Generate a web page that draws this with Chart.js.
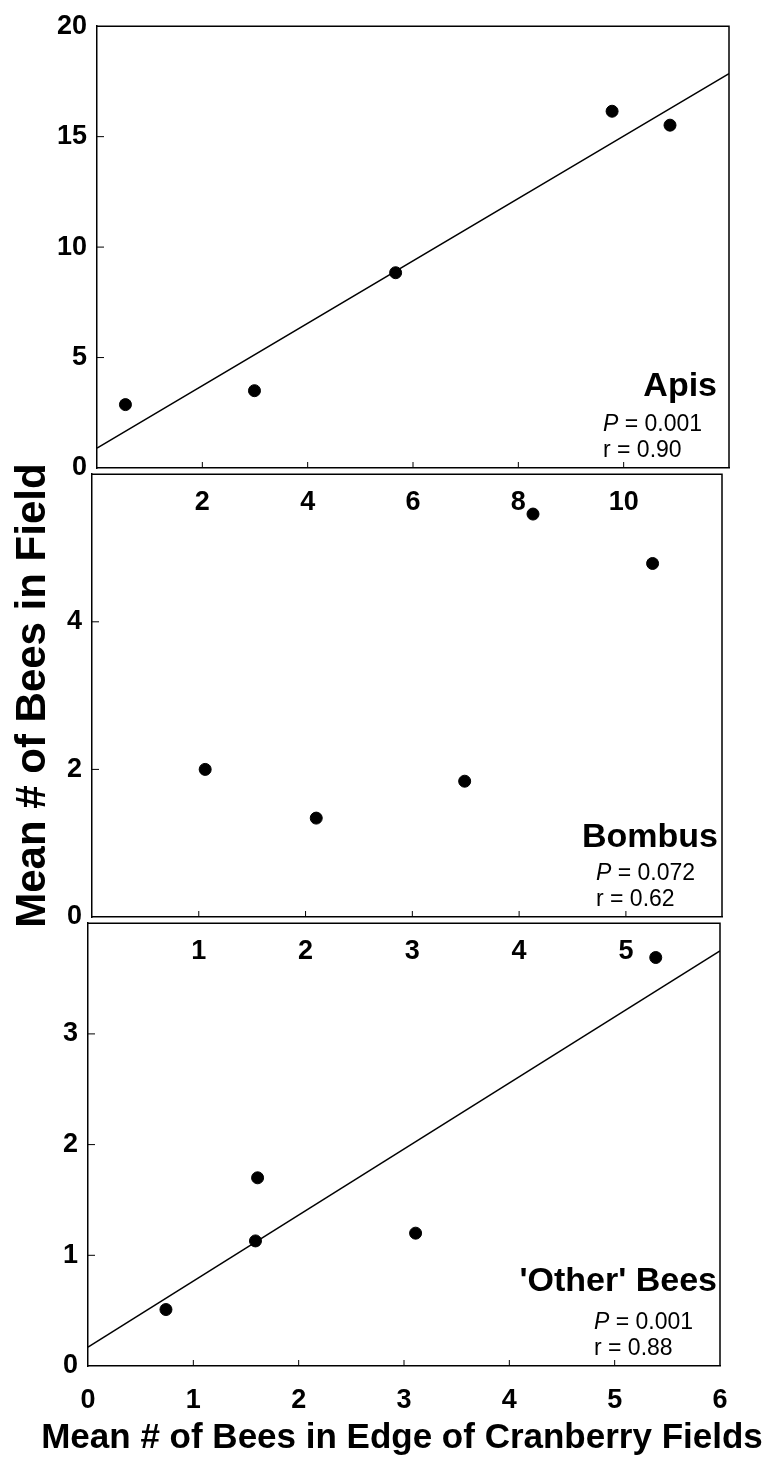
<!DOCTYPE html>
<html>
<head>
<meta charset="utf-8">
<script src="https://cdn.jsdelivr.net/npm/chart.js@4.4.1/dist/chart.umd.min.js"></script>
<style>
  html, body { margin: 0; padding: 0; background: #fff; }
  #page { position: relative; width: 773px; height: 1462px; overflow: hidden; background: #fff; }
  #page canvas { position: absolute; left: 0; }
</style>
</head>
<body>
<div id="page">
  <canvas id="apis" width="773" height="540" style="top:0px"></canvas>
  <canvas id="bombus" width="773" height="541" style="top:448px"></canvas>
  <canvas id="other" width="773" height="565" style="top:897px"></canvas>
</div>
<script>
// Apis panel
const apisX = [0.54, 2.99, 5.67, 9.78, 10.88];
const apisY = [2.87, 3.50, 8.84, 16.15, 15.52];
const apisFitX = [0, 12];
const apisFitY = [0.9, 17.85];
const apisXTicks = [2, 4, 6, 8, 10];
const apisYTicks = [0, 5, 10, 15, 20];

// Bombus panel (no fitted line)
const bombusX = [1.06, 2.10, 3.49, 4.13, 5.25];
const bombusY = [2.0, 1.34, 1.84, 5.46, 4.79];
const bombusXTicks = [1, 2, 3, 4, 5];
const bombusYTicks = [0, 2, 4];

// 'Other' bees panel
const otherX = [0.74, 1.59, 1.61, 3.11, 5.39];
const otherY = [0.51, 1.13, 1.70, 1.20, 3.69];
const otherFitX = [0, 6];
const otherFitY = [0.17, 3.75];
const otherXTicks = [0, 1, 2, 3, 4, 5, 6];
const otherYTicks = [0, 1, 2, 3];

const FONT = "'Liberation Sans', Arial, Helvetica, sans-serif";

const toPoints = (xs, ys) => xs.map((x, i) => ({ x: x, y: ys[i] }));

// box edges, inward tick marks and the species / stats text
const panelPlugin = {
  id: 'panel',
  afterDraw(chart, args, opts) {
    const ctx = chart.ctx;
    const { left, right, top, bottom } = chart.chartArea;
    const sx = chart.scales.x, sy = chart.scales.y;
    ctx.save();
    ctx.strokeStyle = '#000';
    ctx.lineWidth = 1.5;
    ctx.beginPath();
    ctx.moveTo(left, top);
    ctx.lineTo(right, top);
    ctx.lineTo(right, bottom);
    ctx.stroke();

    ctx.lineWidth = 1;
    ctx.beginPath();
    sx.ticks.forEach(t => {
      const px = sx.getPixelForValue(t.value);
      if (px > left + 2 && px < right - 2) { ctx.moveTo(px, bottom); ctx.lineTo(px, bottom - 6); }
    });
    sy.ticks.forEach(t => {
      const py = sy.getPixelForValue(t.value);
      if (py > top + 2 && py < bottom - 2) { ctx.moveTo(left, py); ctx.lineTo(left + 7, py); }
    });
    ctx.stroke();

    ctx.fillStyle = '#000';
    ctx.textBaseline = 'middle';
    ctx.textAlign = 'right';
    ctx.font = 'bold 34px ' + FONT;
    ctx.fillText(opts.name, right - opts.nameInset, bottom - opts.nameUp);

    ctx.textAlign = 'left';
    const sx0 = right - 126;
    ctx.font = 'italic 23px ' + FONT;
    ctx.fillText('P', sx0, bottom - 43);
    const pw = ctx.measureText('P').width;
    ctx.font = '23px ' + FONT;
    ctx.fillText(' = ' + opts.p, sx0 + pw, bottom - 43);
    ctx.fillText('r = ' + opts.r, sx0, bottom - 17);

    // the x title is wider than the plot, so Chart.js would squeeze it; draw it here
    if (opts.xTitle) {
      ctx.textAlign = 'center';
      ctx.font = 'bold 35px ' + FONT;
      ctx.fillText(opts.xTitle, (left + right) / 2 - 2, bottom + 72);
    }
    ctx.restore();
  }
};

function makePanel(id, cfg) {
  const datasets = [{
    data: toPoints(cfg.xs, cfg.ys),
    backgroundColor: '#000',
    borderColor: '#000',
    pointRadius: 6,
    pointHoverRadius: 6
  }];
  if (cfg.fitX) {
    datasets.push({
      data: toPoints(cfg.fitX, cfg.fitY),
      showLine: true,
      borderColor: '#000',
      borderWidth: 1.5,
      pointRadius: 0
    });
  }
  const tickFont = { family: FONT, size: 27, weight: 'bold' };
  return new Chart(document.getElementById(id), {
    type: 'scatter',
    data: { datasets: datasets },
    options: {
      responsive: false,
      animation: false,
      devicePixelRatio: 1,
      layout: { padding: { top: cfg.padTop, right: cfg.padRight, left: 0, bottom: 0 } },
      plugins: { legend: { display: false }, tooltip: { enabled: false }, panel: cfg.panel },
      scales: {
        x: {
          type: 'linear',
          min: cfg.xMin,
          max: cfg.xMax,
          grid: { display: false, drawTicks: false },
          border: { display: true, color: '#000', width: 1.5 },
          ticks: { padding: 18, color: '#000', font: tickFont },
          afterBuildTicks: s => { s.ticks = cfg.xTicks.map(v => ({ value: v })); },
          afterFit: s => { s.height = cfg.xHeight; }
        },
        y: {
          type: 'linear',
          min: cfg.yMin,
          max: cfg.yMax,
          grid: { display: false, drawTicks: false },
          border: { display: true, color: '#000', width: 1.5 },
          ticks: { padding: 10, color: '#000', font: tickFont },
          afterBuildTicks: s => { s.ticks = cfg.yTicks.map(v => ({ value: v })); },
          afterFit: s => { s.width = cfg.yWidth; },
          title: cfg.yTitle || { display: false }
        }
      }
    },
    plugins: [panelPlugin]
  });
}

makePanel('apis', {
  xs: apisX, ys: apisY, fitX: apisFitX, fitY: apisFitY,
  xMin: 0, xMax: 12, yMin: 0, yMax: 20,
  xTicks: apisXTicks, yTicks: apisYTicks,
  padTop: 19, padRight: 44, yWidth: 97, xHeight: 72,
  panel: { name: 'Apis', nameInset: 12, nameUp: 81, p: '0.001', r: '0.90' }
});

makePanel('bombus', {
  xs: bombusX, ys: bombusY,
  xMin: 0, xMax: 5.9, yMin: 0, yMax: 6,
  xTicks: bombusXTicks, yTicks: bombusYTicks,
  padTop: 20, padRight: 51, yWidth: 92, xHeight: 72,
  yTitle: {
    display: true,
    text: 'Mean # of Bees in Field',
    color: '#000',
    font: { family: FONT, size: 42, weight: 'bold' },
    padding: { top: 8, bottom: 0 }
  },
  panel: { name: 'Bombus', nameInset: 4, nameUp: 79, p: '0.072', r: '0.62' }
});

makePanel('other', {
  xs: otherX, ys: otherY, fitX: otherFitX, fitY: otherFitY,
  xMin: 0, xMax: 6, yMin: 0, yMax: 4,
  xTicks: otherXTicks, yTicks: otherYTicks,
  padTop: 20, padRight: 53, yWidth: 88, xHeight: 96,
  panel: {
    name: "'Other' Bees", nameInset: 3, nameUp: 84, p: '0.001', r: '0.88',
    xTitle: 'Mean # of Bees in Edge of Cranberry Fields'
  }
});
</script>
</body>
</html>
